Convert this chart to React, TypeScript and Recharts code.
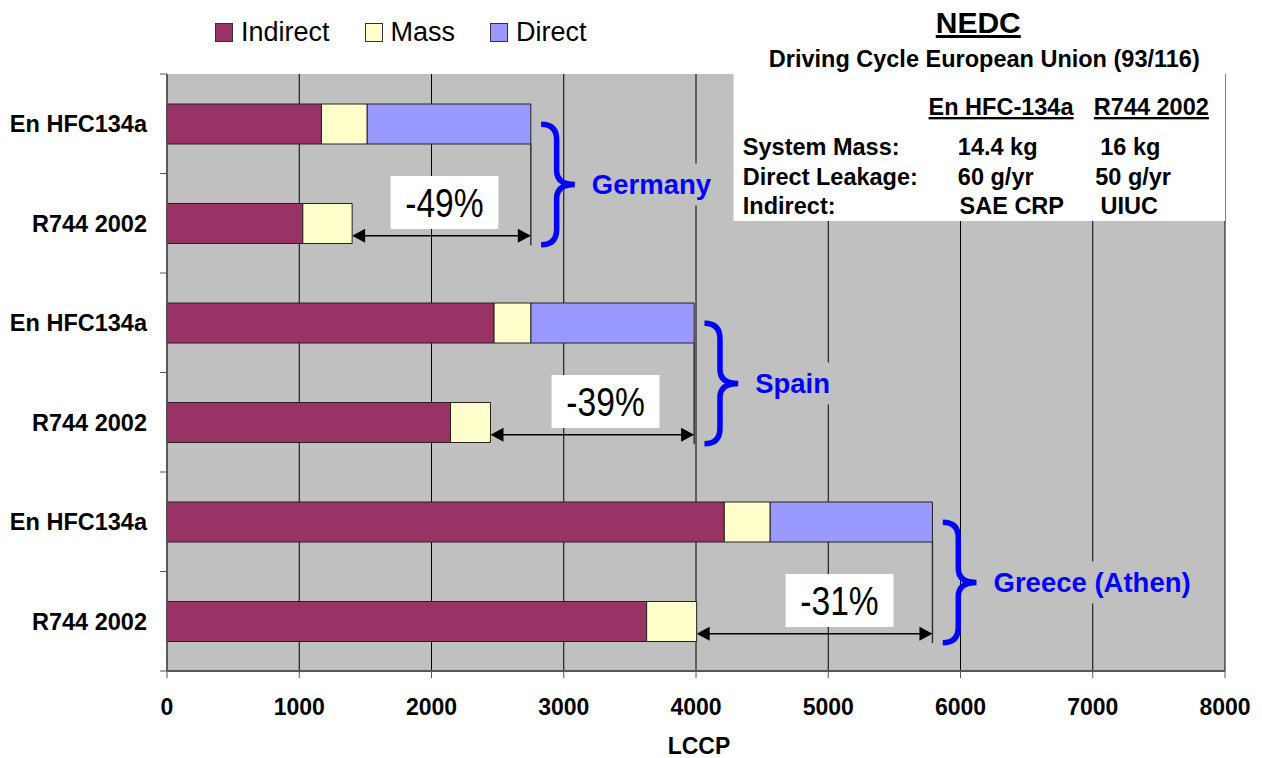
import React from 'react';
import {
  BarChart,
  Bar,
  XAxis,
  YAxis,
  CartesianGrid,
  Legend,
  ReferenceArea,
  ReferenceLine,
} from 'recharts';

// ---------- data ----------
const categories = ['En HFC134a', 'R744 2002', 'En HFC134a', 'R744 2002', 'En HFC134a', 'R744 2002'];
const indirect = [1168, 1027, 2473, 2144, 4214, 3627];
const mass = [346, 373, 279, 302, 347, 378];
const direct = [1237, 0, 1234, 0, 1227, 0];
const xTicks = [0, 1000, 2000, 3000, 4000, 5000, 6000, 7000, 8000];
const boundaryTicks = [0, 1, 2, 3, 4, 5, 6];

const seriesKeys = ['indirect', 'mass', 'direct'];
const seriesNames = ['Indirect', 'Mass', 'Direct'];
const seriesColors = ['#993366', '#FFFFCC', '#9999FF'];

const regions = ['Germany', 'Spain', 'Greece (Athen)'];
const reductions = ['-49%', '-39%', '-31%'];
// horizontal centre of each reduction label (LCCP units)
const reductionLabelCenters = [2098, 3316, 5085];

const titleText = 'NEDC';
const subtitleText = 'Driving Cycle European Union (93/116)';
const tableHeaders = ['En HFC-134a', 'R744 2002'];
const tableRows = [
  ['System Mass:', '14.4 kg', '16 kg'],
  ['Direct Leakage:', '60 g/yr', '50 g/yr'],
  ['Indirect:', 'SAE CRP', 'UIUC'],
];

const data = categories.map((c, i) => ({
  key: String(i),
  pos: i + 0.5, // centre of the category band on the continuous helper axis
  label: c,
  indirect: indirect[i],
  mass: mass[i],
  direct: direct[i],
}));
const totals = data.map((d) => d.indirect + d.mass + d.direct);

// ---------- styling ----------
const FONT = '"Liberation Sans", Arial, sans-serif';
const BLUE = '#0000FF';
const PLOT_BG = '#C0C0C0';

const W = 1262;
const H = 758;

const LegendContent = () => (
  <div
    style={{
      display: 'flex',
      alignItems: 'center',
      fontFamily: FONT,
      fontSize: 27,
      lineHeight: 1,
      color: '#000',
      whiteSpace: 'nowrap',
    }}
  >
    {seriesNames.map((n, i) => (
      <div key={n} style={{ display: 'flex', alignItems: 'center', marginRight: 35 }}>
        <div
          style={{
            width: 16,
            height: 17,
            background: seriesColors[i],
            border: '1px solid #333',
            marginRight: 8,
          }}
        />
        <span>{n}</span>
      </div>
    ))}
  </div>
);

const TableBox = (p: any) => {
  const { x, y, width, height } = p;
  const tf = { fontFamily: FONT, fontWeight: 'bold' as const, fill: '#000' };
  const rowY = [81, 110.5, 139.5];
  const valX = [
    [224.3, 366.7],
    [224.3, 361.7],
    [226, 367],
  ];
  return (
    <g>
      <rect x={x} y={y} width={width} height={height} fill="#fff" />
      <text x={x + 244.7} y={y - 41} textAnchor="middle" fontSize={30} {...tf} textDecoration="underline">
        {titleText}
      </text>
      <text x={x + 250.7} y={y - 7.5} textAnchor="middle" fontSize={23.5} {...tf}>
        {subtitleText}
      </text>
      <text x={x + 195} y={y + 41} fontSize={23.5} {...tf} textDecoration="underline">
        {tableHeaders[0]}
      </text>
      <text x={x + 360.3} y={y + 41} fontSize={23.5} {...tf} textDecoration="underline">
        {tableHeaders[1]}
      </text>
      {tableRows.map((r, i) => (
        <g key={i}>
          <text x={x + 9.3} y={y + rowY[i]} fontSize={23.5} {...tf}>
            {r[0]}
          </text>
          <text x={x + valX[i][0]} y={y + rowY[i]} fontSize={23.5} {...tf}>
            {r[1]}
          </text>
          <text x={x + valX[i][1]} y={y + rowY[i]} fontSize={23.5} {...tf}>
            {r[2]}
          </text>
        </g>
      ))}
    </g>
  );
};

const makeReductionBox = (label: string) => (p: any) => {
  const { x, y, width, height } = p;
  const cx = x + width / 2;
  const by = y + height / 2 + 14.3;
  return (
    <g>
      <rect x={x} y={y} width={width} height={height} fill="#fff" />
      <text
        x={0}
        y={0}
        transform={`translate(${cx},${by}) scale(0.84,1)`}
        textAnchor="middle"
        fontFamily={FONT}
        fontSize={40}
        fill="#000"
      >
        {label}
      </text>
    </g>
  );
};

const makeBrace = (label: string) => (p: any) => {
  const { x, y, width: w, height: h } = p;
  const sx = x + w * 0.46;
  const my = y + h / 2;
  const d = [
    `M${x},${y + 2.5}`,
    `Q${sx},${y + 2.5} ${sx},${y + 18}`,
    `L${sx},${my - 14}`,
    `Q${sx},${my} ${x + w},${my}`,
    `Q${sx},${my} ${sx},${my + 14}`,
    `L${sx},${y + h - 18}`,
    `Q${sx},${y + h - 2.5} ${x},${y + h - 2.5}`,
  ].join(' ');
  const tx = x + w + 17;
  const tw = label.length * 0.6 * 27.5 + 10;
  return (
    <g>
      <path d={d} fill="none" stroke={BLUE} strokeWidth={5.5} strokeLinecap="butt" />
      <rect x={tx - 5} y={my - 21} width={Math.min(tw, 1220 - tx)} height={42} fill={PLOT_BG} />
      <text x={tx} y={my + 10} fontFamily={FONT} fontWeight="bold" fontSize={27.5} fill={BLUE}>
        {label}
      </text>
    </g>
  );
};

const ArrowShape = (p: any) => {
  const { x1, y1, x2, y2 } = p;
  const L = 13;
  const hw = 7;
  return (
    <g>
      <line x1={x1 + 4} y1={y1} x2={x2 - 4} y2={y2} stroke="#000" strokeWidth={1.5} />
      <path d={`M${x1},${y1} L${x1 + L},${y1 - hw} L${x1 + L},${y1 + hw} Z`} fill="#000" />
      <path d={`M${x2},${y2} L${x2 - L},${y2 - hw} L${x2 - L},${y2 + hw} Z`} fill="#000" />
    </g>
  );
};

export default function App() {
  const groups = regions.map((name, g) => {
    const hfcIdx = g * 2;
    const r744Idx = g * 2 + 1;
    const hfcTotal = totals[hfcIdx];
    const r744Total = totals[r744Idx];
    const arrowY = r744Idx + 0.5 + 0.125;
    return { name, g, hfcIdx, r744Idx, hfcTotal, r744Total, arrowY };
  });

  return (
    <div style={{ position: 'absolute', left: 0, top: 0, width: W, height: H, background: '#fff', fontFamily: FONT }}>
      <BarChart
        width={W}
        height={H}
        data={data}
        layout="vertical"
        margin={{ top: 74, right: 37, bottom: 0, left: 0 }}
        barSize={40}
      >
        <CartesianGrid
          yAxisId="cat"
          horizontal={false}
          vertical
          stroke="#000"
          strokeWidth={1}
          fill={PLOT_BG}
          fillOpacity={1}
        />
        <XAxis
          type="number"
          domain={[0, 8000]}
          ticks={xTicks}
          interval={0}
          height={87}
          tickSize={7}
          tickMargin={21}
          axisLine={{ stroke: '#555', strokeWidth: 2 }}
          tickLine={{ stroke: '#555' }}
          tick={{ fontSize: 23, fontWeight: 'bold', fill: '#000', fontFamily: FONT }}
          label={{
            value: 'LCCP',
            position: 'insideBottom',
            offset: 4,
            dx: 3,
            fontSize: 23,
            fontWeight: 'bold',
            fill: '#000',
            fontFamily: FONT,
          }}
        />
        <YAxis
          yAxisId="cat"
          type="category"
          dataKey="key"
          width={167}
          interval={0}
          tickLine={false}
          tickSize={6}
          tickMargin={14}
          axisLine={{ stroke: '#555', strokeWidth: 1.5 }}
          tick={{ fontSize: 23.5, fontWeight: 'bold', fill: '#000', fontFamily: FONT }}
          tickFormatter={(v: any) => categories[Number(v)]}
        />
        <YAxis
          yAxisId="b"
          type="number"
          dataKey="pos"
          domain={[0, 6]}
          ticks={boundaryTicks}
          allowDataOverflow
          width={0}
          hide
        />
        <Legend
          layout="vertical"
          align="center"
          verticalAlign="middle"
          wrapperStyle={{ left: 215, top: 19.4, width: 600, height: 30 }}
          content={() => <LegendContent />}
        />
        {seriesKeys.map((k, i) => (
          <Bar
            key={k}
            yAxisId="cat"
            dataKey={k}
            name={seriesNames[i]}
            stackId="s"
            fill={seriesColors[i]}
            stroke="#222"
            strokeWidth={1}
            isAnimationActive={false}
          />
        ))}

        {/* category boundary tick marks on the left axis */}
        {boundaryTicks.map((t) => (
          <ReferenceLine
            key={'t' + t}
            yAxisId="b"
            ifOverflow="visible"
            segment={[
              { x: -53, y: t },
              { x: 0, y: t },
            ]}
            stroke="#555"
            strokeWidth={1}
          />
        ))}

        {/* info box */}
        <ReferenceArea
          yAxisId="b"
          x1={4284}
          x2={8000}
          y1={0}
          y2={1.477}
          shape={(p: any) => <TableBox {...p} />}
        />

        {groups.map((gr) => (
          <ReferenceLine
            key={'v' + gr.g}
            yAxisId="b"
            segment={[
              { x: gr.hfcTotal, y: gr.hfcIdx + 0.7 },
              { x: gr.hfcTotal, y: gr.arrowY + 0.095 },
            ]}
            stroke="#333"
            strokeWidth={1.5}
          />
        ))}
        {groups.map((gr) => (
          <ReferenceLine
            key={'a' + gr.g}
            yAxisId="b"
            segment={[
              { x: gr.r744Total, y: gr.arrowY },
              { x: gr.hfcTotal, y: gr.arrowY },
            ]}
            shape={(p: any) => <ArrowShape {...p} />}
          />
        ))}
        {groups.map((gr) => (
          <ReferenceArea
            key={'r' + gr.g}
            yAxisId="b"
            x1={reductionLabelCenters[gr.g] - 408}
            x2={reductionLabelCenters[gr.g] + 408}
            y1={gr.arrowY - 0.6}
            y2={gr.arrowY - 0.067}
            shape={makeReductionBox(reductions[gr.g])}
          />
        ))}
        {groups.map((gr) => (
          <ReferenceArea
            key={'b' + gr.g}
            yAxisId="b"
            x1={gr.hfcTotal + 78}
            x2={gr.hfcTotal + 333}
            y1={gr.hfcIdx + 0.48}
            y2={gr.hfcIdx + 1.74}
            shape={makeBrace(regions[gr.g])}
          />
        ))}
      </BarChart>
    </div>
  );
}
